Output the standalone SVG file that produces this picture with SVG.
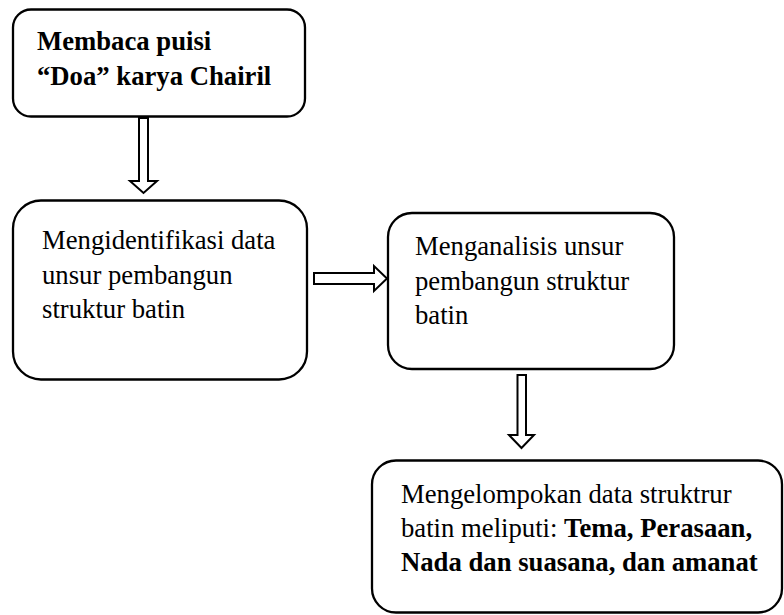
<svg xmlns="http://www.w3.org/2000/svg" width="784" height="615" viewBox="0 0 784 615">
<style>
.box{fill:#fff;stroke:#000;stroke-width:2.3}
.arr{fill:#fff;stroke:#000;stroke-width:2;stroke-linejoin:miter}
text{font-size:26.7px;fill:#000}
.b{font-weight:bold}
</style>
<rect width="784" height="615" fill="#fff"/>
<g id="connectors">
<polygon class="arr" points="139,118 148,118 148,181 157,181 143.5,193 130,181 139,181"/>
<polygon class="arr" points="314,273 374,273 374,266 387,278.5 374,291 374,284 314,284"/>
<polygon class="arr" points="517.5,375 526,375 526,435 534,435 521.5,448 509,435 517.5,435"/>
</g>
<g font-family="Liberation Serif, Tinos, Times New Roman, DejaVu Serif, serif">
<g id="node1">
<rect class="box" x="13" y="9.5" width="292" height="107" rx="18"/>
<text class="b" x="37" y="50">Membaca puisi</text>
<text class="b" x="37" y="85">“Doa” karya Chairil</text>
</g>
<g id="node2">
<rect class="box" x="13" y="200.5" width="294" height="179" rx="28"/>
<text x="42" y="249">Mengidentifikasi data</text>
<text x="42" y="283.5">unsur pembangun</text>
<text x="42" y="318">struktur batin</text>
</g>
<g id="node3">
<rect class="box" x="388" y="213" width="286" height="156" rx="24"/>
<text x="415" y="255">Menganalisis unsur</text>
<text x="415" y="289.5">pembangun struktur</text>
<text x="415" y="324">batin</text>
</g>
<g id="node4">
<rect class="box" x="372" y="460.5" width="410" height="152" rx="24"/>
<text x="401" y="503">Mengelompokan data struktrur</text>
<text x="401" y="537">batin meliputi: <tspan class="b">Tema, Perasaan,</tspan></text>
<text class="b" x="401" y="571">Nada dan suasana, dan amanat</text>
</g>
</g>
</svg>
